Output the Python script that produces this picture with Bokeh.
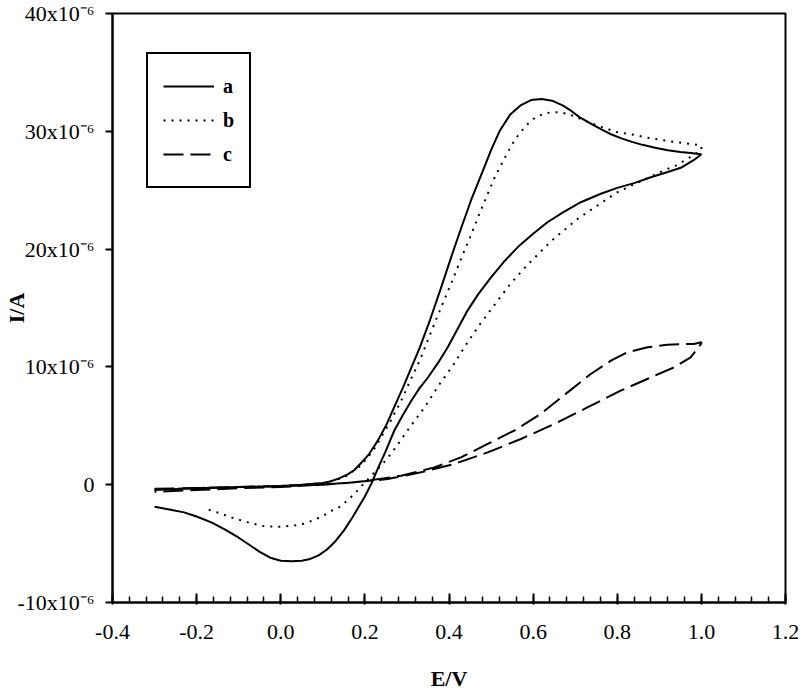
from bokeh.plotting import figure
from bokeh.models import Range1d, FixedTicker, PrintfTickFormatter, Legend, LegendItem
from bokeh.embed import file_html
from bokeh.resources import INLINE

# Curve a (solid): forward then reverse scan, E in V, I in microampere
a_E = [-0.30, -0.20, -0.10, 0.00, 0.05, 0.10, 0.12, 0.14, 0.16, 0.175, 0.19, 0.21, 0.23, 0.25,
       0.27, 0.29, 0.31, 0.33, 0.355, 0.38, 0.405, 0.43, 0.455, 0.48, 0.50, 0.52, 0.545, 0.57,
       0.595, 0.62, 0.645, 0.67, 0.69, 0.71, 0.735, 0.76, 0.785, 0.81, 0.835, 0.86, 0.89, 0.92,
       0.95, 0.975, 1.00,
       0.9825, 0.951, 0.92, 0.88, 0.84, 0.80, 0.761, 0.7134, 0.67, 0.634, 0.60, 0.563, 0.53,
       0.50, 0.47, 0.444, 0.42, 0.397, 0.375, 0.35, 0.33, 0.31, 0.29, 0.27, 0.25, 0.23, 0.215,
       0.20, 0.185, 0.17, 0.15, 0.13, 0.11, 0.09, 0.07, 0.05, 0.025, 0.00, -0.025, -0.05,
       -0.075, -0.10, -0.13, -0.165, -0.20, -0.23, -0.265, -0.30]
a_I = [-0.45, -0.30, -0.20, -0.10, 0.00, 0.15, 0.30, 0.55, 0.90, 1.25, 1.80, 2.60, 3.70, 5.00,
       6.60, 8.20, 9.90, 11.60, 14.00, 16.60, 19.30, 21.90, 24.40, 26.60, 28.40, 30.00, 31.40, 32.20,
       32.65, 32.75, 32.60, 32.20, 31.75, 31.20, 30.70, 30.20, 29.75, 29.40, 29.10, 28.85, 28.60, 28.40,
       28.25, 28.15, 28.05,
       27.57, 26.90, 26.55, 26.10, 25.60, 25.20, 24.70, 23.98, 23.10, 22.28, 21.30, 20.15, 18.90,
       17.60, 16.20, 14.78, 13.20, 11.66, 10.40, 9.10, 8.20, 7.10, 5.90, 4.60, 2.90, 1.30, 0.06,
       -1.00, -1.90, -2.80, -3.90, -4.80, -5.50, -6.00, -6.30, -6.45, -6.50, -6.45, -6.20, -5.70,
       -5.10, -4.50, -3.85, -3.20, -2.70, -2.35, -2.10, -1.87]

# Curve b (dotted)
b_E = [-0.30, -0.20, -0.10, 0.00, 0.05, 0.10, 0.15, 0.19, 0.22, 0.243, 0.258, 0.286, 0.31,
       0.33, 0.35, 0.37, 0.39, 0.41, 0.43, 0.45, 0.47, 0.49, 0.51, 0.535, 0.55, 0.565, 0.585,
       0.604, 0.624, 0.644, 0.663, 0.682, 0.70, 0.73, 0.76, 0.80, 0.84, 0.88, 0.935, 0.975, 1.00,
       1.00, 0.976, 0.959, 0.939, 0.919, 0.88, 0.84, 0.80, 0.78, 0.7055, 0.646, 0.587, 0.547,
       0.51, 0.474, 0.44, 0.409, 0.375, 0.343, 0.308, 0.29, 0.272, 0.2545, 0.235, 0.215, 0.195,
       0.177, 0.158, 0.138, 0.118, 0.0985, 0.078, 0.059, 0.039, 0.00, -0.0385, -0.078, -0.1175,
       -0.1555, -0.1745]
b_I = [-0.40, -0.28, -0.20, -0.10, 0.00, 0.12, 0.60, 1.60, 2.90, 4.30, 5.20, 7.10, 9.00,
       10.50, 12.30, 14.07, 15.80, 17.50, 19.30, 21.00, 22.80, 24.50, 26.20, 27.90, 28.90, 29.70, 30.55,
       31.14, 31.48, 31.62, 31.62, 31.48, 31.25, 30.80, 30.40, 29.92, 29.70, 29.40, 29.10, 28.93, 28.80,
       28.40, 27.86, 27.50, 27.09, 26.80, 26.16, 25.50, 24.82, 24.35, 22.56, 20.78, 18.68, 17.10,
       15.35, 13.65, 11.86, 10.10, 8.41, 6.62, 4.93, 4.02, 3.11, 2.27, 1.50, 0.75, 0.00,
       -0.71, -1.36, -1.93, -2.26, -2.69, -3.00, -3.28, -3.43, -3.57, -3.54, -3.20, -2.78,
       -2.29, -2.10]

# Curve c (dashed)
c_E = [-0.30, -0.20, -0.10, 0.00, 0.10, 0.15, 0.207, 0.286, 0.365, 0.4285, 0.492, 0.555, 0.618,
       0.682, 0.737, 0.785, 0.824, 0.872, 0.919, 0.96, 0.982, 1.00,
       1.00, 0.9745, 0.935, 0.88, 0.808, 0.729, 0.65, 0.571, 0.492, 0.4126, 0.3335, 0.2545,
       0.175, 0.088, 0.00, -0.10, -0.20, -0.30]
c_I = [-0.35, -0.28, -0.20, -0.12, 0.00, 0.12, 0.34, 0.76, 1.47, 2.32, 3.46, 4.59, 6.00,
       7.84, 9.40, 10.53, 11.24, 11.66, 11.89, 11.93, 11.95, 12.10,
       12.00, 10.80, 9.96, 9.11, 7.98, 6.56, 5.15, 3.88, 2.74, 1.76, 1.05, 0.48,
       0.20, 0.00, -0.20, -0.30, -0.45, -0.60]

x_ticks = [-0.4, -0.2, 0.0, 0.2, 0.4, 0.6, 0.8, 1.0, 1.2]
y_ticks = [-10, 0, 10, 20, 30, 40]
y_labels = {-10: "-10x10\u207b\u2076", 0: "0", 10: "10x10\u207b\u2076",
            20: "20x10\u207b\u2076", 30: "30x10\u207b\u2076", 40: "40x10\u207b\u2076"}
legend_labels = ["a", "b", "c"]
x_title = "E/V"
y_title = "I/A"

FONT = "Liberation Serif"

p = figure(width=800, height=696, output_backend="svg", toolbar_location=None,
           x_range=Range1d(-0.4, 1.2), y_range=Range1d(-10, 40),
           min_border_left=111, min_border_right=15, min_border_top=13, min_border_bottom=94)
p.background_fill_color = "white"
p.border_fill_color = "white"
p.xgrid.visible = False
p.ygrid.visible = False
p.outline_line_color = "black"
p.outline_line_width = 2

ra = p.line(a_E, a_I, line_color="black", line_width=2)
rb = p.line(b_E, b_I, line_color="black", line_width=2, line_dash="2 6")
rc = p.line(c_E, c_I, line_color="black", line_width=2, line_dash="20 7")

xa = p.xaxis[0]
xa.ticker = FixedTicker(ticks=x_ticks,
                        minor_ticks=[round(-0.4 + 0.04 * i, 2) for i in range(41)])
xa.formatter = PrintfTickFormatter(format="%.1f")
xa.axis_line_width = 2
xa.major_tick_in = 9
xa.major_tick_out = 2
xa.minor_tick_in = 6
xa.minor_tick_out = 0
xa.major_tick_line_width = 2
xa.minor_tick_line_width = 1.5
xa.major_label_text_font = FONT
xa.major_label_text_font_size = "22px"
xa.major_label_text_color = "black"
xa.major_label_standoff = 20
xa.axis_label = x_title
xa.axis_label_text_font = FONT
xa.axis_label_text_font_style = "bold"
xa.axis_label_text_font_size = "22px"
xa.axis_label_text_line_height = 1.0
xa.axis_label_text_color = "black"
xa.axis_label_standoff = 24

ya = p.yaxis[0]
ya.ticker = FixedTicker(ticks=y_ticks, minor_ticks=[])
ya.major_label_overrides = y_labels
ya.axis_line_width = 2
ya.major_tick_in = 0
ya.major_tick_out = 7
ya.major_tick_line_width = 2
ya.minor_tick_in = 0
ya.minor_tick_out = 0
ya.major_label_text_font = FONT
ya.major_label_text_font_size = "22px"
ya.major_label_text_color = "black"
ya.major_label_standoff = 11
ya.axis_label = y_title
ya.axis_label_text_font = FONT
ya.axis_label_text_font_style = "bold"
ya.axis_label_text_font_size = "22px"
ya.axis_label_text_line_height = 1.0
ya.axis_label_text_color = "black"
ya.axis_label_standoff = -14

legend = Legend(items=[LegendItem(label=legend_labels[0], renderers=[ra]),
                       LegendItem(label=legend_labels[1], renderers=[rb]),
                       LegendItem(label=legend_labels[2], renderers=[rc])],
                location=(34, 414))
legend.border_line_color = "black"
legend.border_line_alpha = 1
legend.border_line_width = 2
legend.background_fill_color = "white"
legend.background_fill_alpha = 1
legend.label_text_font = FONT
legend.label_text_font_style = "bold"
legend.label_text_font_size = "20px"
legend.label_text_color = "black"
legend.glyph_width = 51
legend.glyph_height = 34
legend.label_height = 34
legend.label_width = 8
legend.spacing = 0
legend.padding = 15
legend.margin = 0
legend.label_standoff = 9
p.add_layout(legend, "center")

open("out.html", "w").write(file_html(p, INLINE))
